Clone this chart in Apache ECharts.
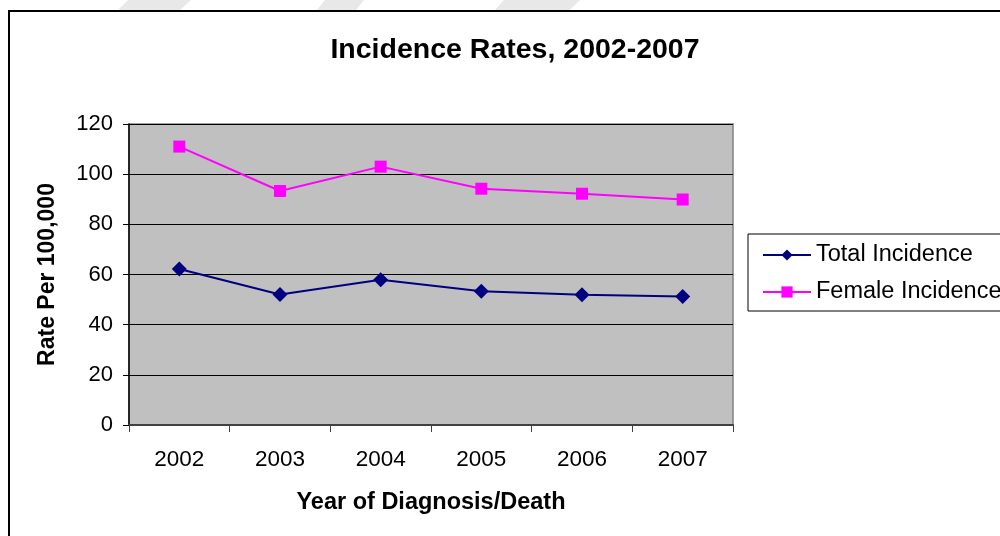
<!DOCTYPE html>
<html>
<head>
<meta charset="utf-8">
<script src="https://cdn.jsdelivr.net/npm/echarts@6/dist/echarts.min.js"></script>
<style>
  html, body { margin: 0; padding: 0; background: #ffffff; }
  #chart { width: 1000px; height: 536px; }
</style>
</head>
<body>
<div id="chart"></div>
<script>
// Incidence rates per 100,000 by year
const years = ['2002', '2003', '2004', '2005', '2006', '2007'];
const totalIncidence = [62.2, 52.0, 57.9, 53.3, 51.9, 51.2];
const femaleIncidence = [111.0, 93.3, 103.0, 94.2, 92.2, 89.9];
const yTicks = [0, 20, 40, 60, 80, 100, 120];

const FONT = '"Liberation Sans", Arial, sans-serif';

const chart = echarts.init(document.getElementById('chart'));
chart.setOption({
  backgroundColor: '#ffffff',
  animation: false,
  textStyle: { fontFamily: FONT },
  title: {
    text: 'Incidence Rates, 2002-2007',
    left: 510,
    top: 31,
    textAlign: 'center',
    textStyle: { fontFamily: FONT, fontSize: 28.5, fontWeight: 'bold', color: '#000' }
  },
  legend: {
    orient: 'vertical',
    left: 748,
    top: 234,
    itemWidth: 48,
    itemHeight: 14,
    itemGap: 13,
    padding: [9, 40, 7, 14],
    borderColor: '#000',
    borderWidth: 1,
    textStyle: { fontFamily: FONT, fontSize: 23.5, color: '#000' },
    data: ['Total Incidence', 'Female Incidence']
  },
  grid: {
    left: 129, top: 124, width: 604, height: 301,
    show: true,
    backgroundColor: '#c0c0c0',
    borderColor: '#808080',
    borderWidth: 1.5,
    containLabel: false
  },
  xAxis: {
    type: 'category',
    data: years,
    boundaryGap: true,
    name: 'Year of Diagnosis/Death',
    nameLocation: 'middle',
    nameGap: 66,
    nameTextStyle: { fontFamily: FONT, fontSize: 23.5, fontWeight: 'bold', color: '#000' },
    axisLine: { lineStyle: { color: '#404040', width: 2 } },
    axisTick: { show: true, length: 7, lineStyle: { color: '#404040', width: 1 } },
    axisLabel: { fontFamily: FONT, fontSize: 22.5, color: '#000', margin: 23 },
    splitLine: { show: false }
  },
  yAxis: {
    type: 'value',
    min: yTicks[0],
    max: yTicks[yTicks.length - 1],
    interval: 20,
    name: 'Rate Per 100,000',
    nameLocation: 'middle',
    nameGap: 70,
    nameRotate: 90,
    nameTextStyle: { fontFamily: FONT, fontSize: 23, fontWeight: 'bold', color: '#000' },
    axisLine: { show: true, lineStyle: { color: '#000', width: 1.5 } },
    axisTick: { show: true, length: 6, lineStyle: { color: '#000', width: 1 } },
    axisLabel: { fontFamily: FONT, fontSize: 22, color: '#000', margin: 16 },
    splitLine: { show: true, lineStyle: { color: '#000', width: 1.2 } }
  },
  series: [
    {
      name: 'Total Incidence',
      type: 'line',
      data: totalIncidence,
      symbol: 'diamond',
      symbolSize: 15,
      lineStyle: { color: '#000080', width: 2 },
      itemStyle: { color: '#000080' }
    },
    {
      name: 'Female Incidence',
      type: 'line',
      data: femaleIncidence,
      symbol: 'rect',
      symbolSize: 12,
      lineStyle: { color: '#ff00ff', width: 2 },
      itemStyle: { color: '#ff00ff' }
    }
  ],
  graphic: [
    // outer chart frame
    {
      type: 'rect',
      shape: { x: 9, y: 11, width: 1005, height: 545 },
      style: { fill: 'none', stroke: '#000', lineWidth: 2 },
      silent: true
    },
    // pale diagonal stripes above the frame
    {
      type: 'polygon',
      shape: { points: [[128, 0], [191, 0], [180, 10], [118, 10]] },
      style: { fill: '#e8e8e8' },
      silent: true
    },
    {
      type: 'polygon',
      shape: { points: [[325, 0], [364, 0], [356, 10], [317, 10]] },
      style: { fill: '#e8e8e8' },
      silent: true
    },
    {
      type: 'polygon',
      shape: { points: [[504, 0], [580, 0], [570, 10], [495, 10]] },
      style: { fill: '#e8e8e8' },
      silent: true
    }
  ]
});
</script>
</body>
</html>
